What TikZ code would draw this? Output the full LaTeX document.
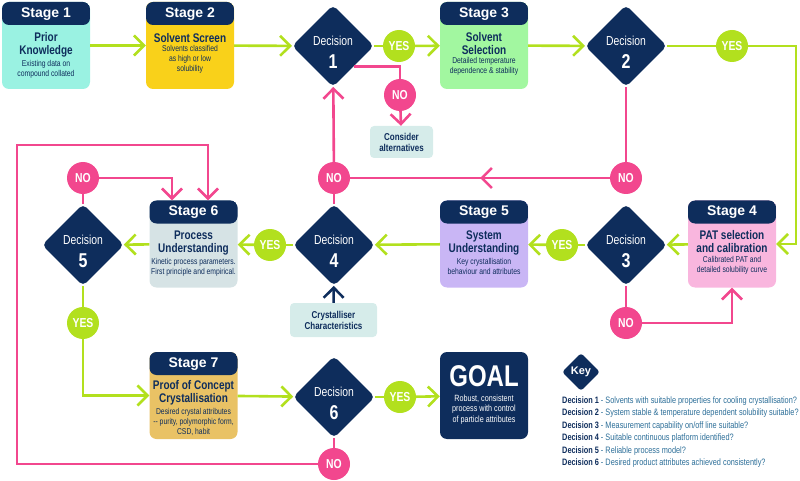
\documentclass[tikz,border=0pt]{standalone}
\usepackage{fontspec}
\setmainfont{Liberation Sans}
\newfontfamily\narrowfont[FakeStretch=0.8]{Liberation Sans}
\newfontfamily\keyfont[FakeStretch=0.79]{Liberation Sans}
\usetikzlibrary{shapes.geometric,arrows.meta,positioning,calc,decorations.markings}
\definecolor{flownavy}{HTML}{0E2D5C}
\definecolor{flowlime}{HTML}{B2E01E}
\definecolor{flowpink}{HTML}{F2478E}
\definecolor{keyblue}{HTML}{2C6E98}
\definecolor{s1col}{HTML}{9AF2E2}
\definecolor{s2col}{HTML}{F9D11A}
\definecolor{s3col}{HTML}{A2F7A0}
\definecolor{s4col}{HTML}{F9B6DE}
\definecolor{s5col}{HTML}{C9B6F5}
\definecolor{s6col}{HTML}{D6E3E5}
\definecolor{s7col}{HTML}{E9C265}
\definecolor{notecol}{HTML}{D6ECEA}

\begin{document}
\begin{tikzpicture}[x=1pt, y=-1pt,
  stage/.style={rounded corners=7pt, minimum width=88pt, minimum height=87pt, inner sep=0pt, fill=#1,
    path picture={\fill[flownavy] (path picture bounding box.north west) rectangle ([yshift=-23pt]path picture bounding box.north east);}},
  stagelab/.style={text=white, inner sep=0pt, font=\bfseries\fontsize{14}{14}\selectfont},
  stagetit/.style={anchor=north, align=center, inner sep=1pt, text=flownavy, font=\narrowfont\bfseries\fontsize{12.5}{13}\selectfont},
  stagetxt/.style={align=center, inner sep=0pt, text=flownavy, font=\narrowfont\fontsize{8.5}{10}\selectfont},
  decision/.style={diamond, aspect=1, fill=flownavy, text=white, rounded corners=5pt, inner sep=0pt,
    minimum width=82pt, minimum height=82pt},
  dectext/.style={text=white, align=center, inner sep=0pt, font=\narrowfont\fontsize{13}{13}\selectfont},
  yescirc/.style={circle, fill=flowlime, text=white, inner sep=0pt, minimum size=32pt, font=\narrowfont\bfseries\fontsize{13}{13}\selectfont},
  nocirc/.style={yescirc, fill=flowpink},
  note/.style={rounded corners=4pt, fill=notecol, text=flownavy, align=center, inner sep=0pt,
    font=\narrowfont\bfseries\fontsize{10}{11}\selectfont},
  keyline/.style={anchor=west, inner sep=0pt, text=keyblue, font=\keyfont\fontsize{9.3}{10}\selectfont},
  limeline/.style={draw=flowlime, line width=2.6pt},
  pinkline/.style={draw=flowpink, line width=2.6pt},
  navyline/.style={draw=flownavy, line width=2.6pt},
  arr/.style={-{Straight Barb[length=10pt,width=20pt]}},
  midarrow/.style={postaction={decorate}, decoration={markings,
    mark=at position #1 with {\arrow{Straight Barb[length=10pt,width=20pt]}}}}]
  \useasboundingbox (0,0) rectangle (800,481);

  % stage boxes
  \node[stage=s1col] (s1) at (46,45.5) {};
  \node[stagelab] (s1lab) at ([yshift=-12pt]s1.north) {Stage 1};
  \node[stagetit] (s1tit) at ([yshift=-29pt]s1.north) {Prior\\Knowledge};
  \node[stagetxt, below=2pt of s1tit] (s1txt) {Existing data on\\compound collated};

  \node[stage=s2col] (s2) at (190,45.5) {};
  \node[stagelab] (s2lab) at ([yshift=-12pt]s2.north) {Stage 2};
  \node[stagetit] (s2tit) at ([yshift=-30pt]s2.north) {Solvent Screen};
  \node[stagetxt, below=2pt of s2tit] (s2txt) {Solvents classified\\as high or low\\solubility};

  \node[stage=s3col] (s3) at (484,45.5) {};
  \node[stagelab] (s3lab) at ([yshift=-12pt]s3.north) {Stage 3};
  \node[stagetit] (s3tit) at ([yshift=-29pt]s3.north) {Solvent\\Selection};
  \node[stagetxt, below=2pt of s3tit] (s3txt) {Detailed temperature\\dependence \& stability};

  \node[stage=s4col] (s4) at (732,244) {};
  \node[stagelab] (s4lab) at ([yshift=-12pt]s4.north) {Stage 4};
  \node[stagetit] (s4tit) at ([yshift=-29pt]s4.north) {PAT selection\\and calibration};
  \node[stagetxt, below=2pt of s4tit] (s4txt) {Calibrated PAT and\\detailed solubility curve};

  \node[stage=s5col] (s5) at (484,244) {};
  \node[stagelab] (s5lab) at ([yshift=-12pt]s5.north) {Stage 5};
  \node[stagetit] (s5tit) at ([yshift=-29pt]s5.north) {System\\Understanding};
  \node[stagetxt, below=2pt of s5tit] (s5txt) {Key crystallisation\\behaviour and attributes};

  \node[stage=s6col] (s6) at (193.5,244) {};
  \node[stagelab] (s6lab) at ([yshift=-12pt]s6.north) {Stage 6};
  \node[stagetit] (s6tit) at ([yshift=-29pt]s6.north) {Process\\Understanding};
  \node[stagetxt, below=2pt of s6tit] (s6txt) {Kinetic process parameters.\\First principle and empirical.};

  \node[stage=s7col] (s7) at (193.5,395.5) {};
  \node[stagelab] (s7lab) at ([yshift=-12pt]s7.north) {Stage 7};
  \node[stagetit] (s7tit) at ([yshift=-27pt]s7.north) {Proof of Concept\\Crystallisation};
  \node[stagetxt, below=2pt of s7tit] (s7txt) {Desired crystal attributes\\-- purity, polymorphic form,\\CSD, habit};

  % goal
  \node[rounded corners=7pt, fill=flownavy, minimum width=88pt, minimum height=87pt] (goal) at (484,395.5) {};
  \node[text=white, inner sep=0pt, font=\narrowfont\bfseries\fontsize{30}{30}\selectfont] (goaltit) at ([yshift=-24pt]goal.north) {GOAL};
  \node[text=white, align=center, inner sep=0pt, font=\narrowfont\fontsize{9}{10.5}\selectfont, below=8pt of goaltit] (goaltxt) {Robust, consistent\\process with control\\of particle attributes};

  % decisions
  \foreach \n/\x/\y in {1/333/46, 2/626/46, 3/626/245, 4/334/245, 5/83/245, 6/334/397}{
    \node[decision] (d\n) at (\x,\y) {};
    \node[dectext] (dt\n) at ([yshift=-6pt]d\n.center) {Decision\\[8pt]{\bfseries\fontsize{20}{20}\selectfont \n}};
  }

  % yes / no
  \foreach \nm/\x/\y in {yes1/399/46, yes2/732/46, yes3/562/245, yes4/270/245, yes5/83/323, yes6/400/397}
    \node[yescirc] (\nm) at (\x,\y) {YES};
  \foreach \nm/\x/\y in {no1/400/95, no2/626/178, no3/334/178, no4/626/323, no5/83/178, no6/334/464}
    \node[nocirc] (\nm) at (\x,\y) {NO};

  % side notes
  \node[note, minimum width=63pt, minimum height=32pt] (alt) at (401.5,142) {Consider\\alternatives};
  \node[note, minimum width=87pt, minimum height=34pt] (cryst) at (333.5,320) {Crystalliser\\Characteristics};

  \coordinate (gturn) at (796,46);
  \coordinate (loopturn) at (17,145);

  % yes paths
  \draw[limeline, arr] (s1) -- (s2);
  \draw[limeline, arr] (s2) -- (d1);
  \draw[limeline] (d1) -- (yes1);
  \draw[limeline, arr] (yes1) -- (s3);
  \draw[limeline, arr] (s3) -- (d2);
  \draw[limeline] (d2) -- (yes2);
  \draw[limeline, arr] (yes2) -- (gturn) |- (s4);
  \draw[limeline, arr] (s4) -- (d3);
  \draw[limeline] (d3) -- (yes3);
  \draw[limeline, arr] (yes3) -- (s5);
  \draw[limeline, arr] (s5) -- (d4);
  \draw[limeline] (d4) -- (yes4);
  \draw[limeline, arr] (yes4) -- (s6);
  \draw[limeline, arr] (s6) -- (d5);
  \draw[limeline] (d5) -- (yes5);
  \draw[limeline, arr] (yes5) |- (s7);
  \draw[limeline, arr] (s7) -- (d6);
  \draw[limeline] (d6) -- (yes6);
  \draw[limeline, arr] (yes6) -- (goal);

  % no paths
  \draw[pinkline] (d1.south east) -| (no1);
  \draw[pinkline, arr] (no1) -- (alt);
  \draw[pinkline] (d2) -- (no2);
  \draw[pinkline, midarrow=0.5] (no2) -- (no3);
  \draw[pinkline] (d4) -- (no3);
  \draw[pinkline, arr] (no3) -- (d1);
  \draw[pinkline] (d3) -- (no4);
  \draw[pinkline, arr] (no4) -| (s4);
  \draw[pinkline] (d5) -- (no5);
  \draw[pinkline, arr] (no5) -| ([xshift=-21.5pt]s6.north);
  \draw[pinkline] (d6) -- (no6);
  \draw[pinkline, arr] (no6) -| (loopturn) -| ([xshift=14.5pt]s6.north);

  \draw[navyline, arr] (cryst) -- (d4);

  % key
  \node[decision, minimum width=38pt, minimum height=38pt, rounded corners=3pt, font=\bfseries\fontsize{11}{11}\selectfont] (key) at (581,372) {Key};
  \foreach \n/\txt [count=\i from 0] in {1/Solvents with suitable properties for cooling crystallisation?,
      2/System stable \& temperature dependent solubility suitable?,
      3/{Measurement capability on/off line suitable?},
      4/Suitable continuous platform identified?,
      5/Reliable process model?,
      6/Desired product attributes achieved consistently?}
    \node[keyline] (key\n) at (562,401+12.4*\i) {\textcolor{flownavy}{\bfseries Decision \n} - \txt};
\end{tikzpicture}
\end{document}
